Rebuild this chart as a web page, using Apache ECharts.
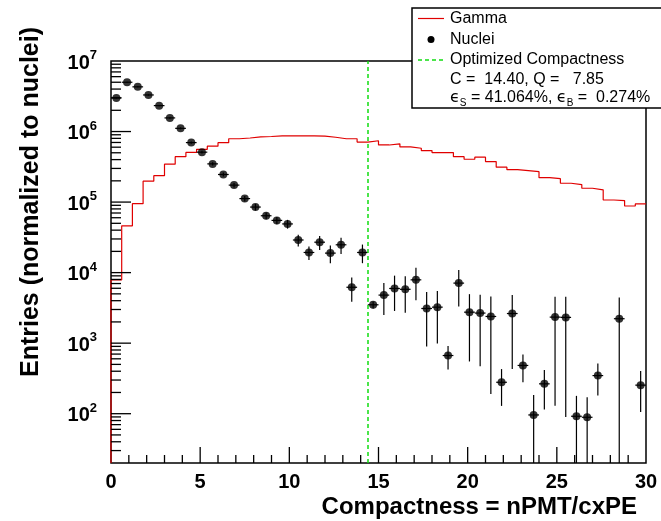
<!DOCTYPE html>
<html>
<head>
<meta charset="utf-8">
<script src="https://cdn.jsdelivr.net/npm/echarts@6/dist/echarts.min.js"></script>
<style>
html,body{margin:0;padding:0;background:#fff;}
#c{width:661px;height:521px;}
</style>
</head>
<body>
<div id="c"></div>
<script>
// ---- data ----
const binCenters = [0.3,0.9,1.5,2.1,2.7,3.3,3.9,4.5,5.1,5.7,6.3,6.9,7.5,8.1,8.7,9.3,9.9,10.5,11.1,11.7,
  12.3,12.9,13.5,14.1,14.7,15.3,15.9,16.5,17.1,17.7,18.3,18.9,19.5,20.1,20.7,21.3,21.9,22.5,23.1,23.7,
  24.3,24.9,25.5,26.1,26.7,27.3,27.9,28.5,29.1,29.7];
const binWidth = 0.6;
const gammaValues = [7.9e3,4.6e4,9.5e4,1.98e5,2.37e5,3.45e5,4.4e5,5.05e5,5.6e5,6.2e5,
  6.96e5,7.9e5,8.1e5,8.4e5,8.5e5,8.7e5,8.7e5,8.7e5,8.7e5,8.6e5,
  8.3e5,7.9e5,7.9e5,7.1e5,7.4e5,6.45e5,6.7e5,6.05e5,5.8e5,5.37e5,
  5.03e5,5.03e5,4.4e5,4.05e5,4.33e5,3.75e5,3.12e5,2.88e5,2.79e5,2.7e5,
  2.22e5,2.15e5,1.85e5,1.77e5,1.57e5,1.49e5,1.07e5,1.05e5,8.8e4,9.4e4];
const nucleiValues = [3.0e6,5.0e6,4.3e6,3.3e6,2.33e6,1.56e6,1.11e6,6.97e5,5.1e5,3.48e5,
  2.46e5,1.74e5,1.12e5,8.5e4,6.4e4,5.5e4,4.9e4,2.9e4,1.93e4,2.7e4,
  1.89e4,2.48e4,6.2e3,1.93e4,3.5e3,4.8e3,5.96e3,5.8e3,7.9e3,3.1e3,
  3.24e3,668,7.1e3,2.75e3,2.67e3,2.39e3,279,2.63e3,483,96,
  265,2.34e3,2.32e3,92,89,347,null,2.22e3,null,254];
const nucleiErrors = [6e4,8e4,7e4,6e4,5e4,4e4,3.4e4,2.7e4,2.3e4,1.9e4,
  1.6e4,1.3e4,1.0e4,9e3,7e3,6.5e3,7e3,5.5e3,4.2e3,6e3,
  5.3e3,6.4e3,2.35e3,5.7e3,400,2.3e3,3.1e3,3.1e3,3.85e3,2.2e3,
  2.25e3,245,3.8e3,2.2e3,2.2e3,2.2e3,150,2.2e3,205,88,
  150,2.21e3,2.23e3,87,82,166,null,2.22e3,null,148];
const cutValue = 14.40;
const xMin = 0, xMax = 30, xInterval = 5;
const yMin = 20, yMax = 1e7;
const xMajorTicks = [5,10,15,20,25];
const xMinorTicks = [1,2,3,4,6,7,8,9,11,12,13,14,16,17,18,19,21,22,23,24,26,27,28,29];
const yMajorTicks = [1e2,1e3,1e4,1e5,1e6];
const yMinorTicks = [30,40,50,60,70,80,90,200,300,400,500,600,700,800,900,
  2e3,3e3,4e3,5e3,6e3,7e3,8e3,9e3,2e4,3e4,4e4,5e4,6e4,7e4,8e4,9e4,
  2e5,3e5,4e5,5e5,6e5,7e5,8e5,9e5,2e6,3e6,4e6,5e6,6e6,7e6,8e6,9e6];
const legendLabels = ['Gamma','Nuclei','Optimized Compactness'];
const legendLine4 = 'C =  14.40, Q =   7.85';
const xTitle = 'Compactness = nPMT/cxPE';
const yTitle = 'Entries (normalized to nuclei)';

// ---- build ----
const FONT = '"Liberation Sans", Arial, Helvetica, sans-serif';
const gammaPath = [[binCenters[0]-binWidth/2, yMin]];
binCenters.forEach((c,i)=>{
  gammaPath.push([c-binWidth/2, gammaValues[i]]);
  gammaPath.push([c+binWidth/2, gammaValues[i]]);
});
const nucleiPts = [];
const nucleiErr = [];
binCenters.forEach((c,i)=>{
  if (nucleiValues[i] != null) {
    nucleiPts.push([c, nucleiValues[i]]);
    nucleiErr.push([c, nucleiValues[i], nucleiErrors[i]]);
  }
});
const tickData = [];
xMajorTicks.forEach(v=>tickData.push([v, yMin, 16, 0]));
xMinorTicks.forEach(v=>tickData.push([v, yMin, 8, 0]));
yMajorTicks.forEach(v=>tickData.push([xMin, v, 20, 1]));
yMinorTicks.forEach(v=>tickData.push([xMin, v, 10, 1]));

const chart = echarts.init(document.getElementById('c'), null, {renderer:'canvas'});
chart.setOption({
  animation: false,
  backgroundColor: '#fff',
  grid: {left:111, right:15, top:61, bottom:58, show:true, borderColor:'#000', borderWidth:1.5, backgroundColor:'transparent'},
  xAxis: {
    type:'value', min:xMin, max:xMax, interval:xInterval,
    axisLine:{show:false}, axisTick:{show:false}, splitLine:{show:false},
    axisLabel:{color:'#000', fontSize:20, fontWeight:'bold', fontFamily:FONT, margin:9}
  },
  yAxis: {
    type:'log', logBase:10, min:yMin, max:yMax,
    axisLine:{show:false}, axisTick:{show:false}, splitLine:{show:false},
    axisLabel:{
      showMinLabel:false, margin:14, color:'#000',
      formatter: v => '{b|10}{s|' + Math.round(Math.log10(v)) + '}',
      rich:{
        b:{fontSize:20, fontWeight:'bold', fontFamily:FONT, color:'#000', lineHeight:24, verticalAlign:'bottom'},
        s:{fontSize:13, fontWeight:'bold', fontFamily:FONT, color:'#000', lineHeight:13, verticalAlign:'top'}
      }
    }
  },
  series: [
    {
      type:'custom', name:'ticks', data: tickData, silent:true, z:5,
      encode:{x:0, y:1},
      renderItem:(params, api)=>{
        const p = api.coord([api.value(0), api.value(1)]);
        const len = api.value(2);
        const isY = api.value(3) === 1;
        return {type:'line', shape: isY ? {x1:p[0], y1:p[1], x2:p[0]+len, y2:p[1]} : {x1:p[0], y1:p[1], x2:p[0], y2:p[1]-len},
          style:{stroke:'#000', lineWidth:1.3}};
      }
    },
    {
      type:'line', name:'Gamma', data: gammaPath, showSymbol:false, symbol:'none',
      lineStyle:{color:'#e00000', width:1.2}, z:3,
      markLine:{
        silent:true, symbol:'none', label:{show:false},
        lineStyle:{color:'#11dd11', type:[4,3], width:1.5},
        data:[{xAxis:cutValue}]
      }
    },
    {
      type:'custom', name:'NucleiErr', data: nucleiErr, z:4,
      encode:{x:0, y:1},
      renderItem:(params, api)=>{
        const x = api.value(0), v = api.value(1), e = api.value(2);
        const lo = Math.max(v - e, yMin), hi = Math.min(v + e, yMax);
        const pLo = api.coord([x, lo]), pHi = api.coord([x, hi]);
        const pL = api.coord([x - binWidth/2, v]), pR = api.coord([x + binWidth/2, v]);
        return {type:'group', children:[
          {type:'line', shape:{x1:pLo[0], y1:pLo[1], x2:pHi[0], y2:pHi[1]}, style:{stroke:'#000', lineWidth:1.2}},
          {type:'line', shape:{x1:pL[0], y1:pL[1], x2:pR[0], y2:pR[1]}, style:{stroke:'#000', lineWidth:1.2}}
        ]};
      }
    },
    {
      type:'scatter', name:'Nuclei', data: nucleiPts, symbol:'circle', symbolSize:8,
      itemStyle:{color:'#000'}, z:6
    }
  ],
  graphic: [
    {type:'rect', z:100, shape:{x:412, y:8, width:252, height:100}, style:{fill:'#fff', stroke:'#000', lineWidth:1.5}},
    {type:'line', z:101, shape:{x1:418, y1:18.5, x2:444, y2:18.5}, style:{stroke:'#e00000', lineWidth:1.2}},
    {type:'circle', z:101, shape:{cx:431, cy:39.5, r:3.5}, style:{fill:'#000'}},
    {type:'line', z:101, shape:{x1:418, y1:60, x2:444, y2:60}, style:{stroke:'#11dd11', lineWidth:1.5, lineDash:[4,3]}},
    {type:'text', z:101, x:450, y:18.5, style:{text:legendLabels[0], fill:'#000', font:'16px '+FONT, verticalAlign:'middle'}},
    {type:'text', z:101, x:450, y:39.5, style:{text:legendLabels[1], fill:'#000', font:'16px '+FONT, verticalAlign:'middle'}},
    {type:'text', z:101, x:450, y:60, style:{text:legendLabels[2], fill:'#000', font:'16px '+FONT, verticalAlign:'middle'}},
    {type:'text', z:101, x:450, y:79.5, style:{text:legendLine4, fill:'#000', font:'16px '+FONT, verticalAlign:'middle'}},
    {type:'text', z:101, x:450, y:98, style:{
      text:'{e|ϵ}{sub|S}{n| = 41.064%, }{e|ϵ}{sub|B}{n| =  0.274%}', verticalAlign:'middle',
      rich:{
        n:{fontSize:16, fontFamily:FONT, fill:'#000', lineHeight:20, verticalAlign:'middle'},
        e:{fontSize:16, fontFamily:'"DejaVu Sans", '+FONT, fill:'#000', lineHeight:20, verticalAlign:'middle'},
        sub:{fontSize:10, fontFamily:FONT, fill:'#000', lineHeight:10, verticalAlign:'bottom'}
      }
    }},
    {type:'text', z:101, x:637, y:507, style:{text:xTitle, fill:'#000', font:'bold 24px '+FONT, align:'right', verticalAlign:'middle'}},
    {type:'text', z:101, x:31, y:202, rotation:Math.PI/2, style:{text:yTitle, fill:'#000', font:'bold 25px '+FONT, align:'center', verticalAlign:'middle'}}
  ]
});
</script>
</body>
</html>
